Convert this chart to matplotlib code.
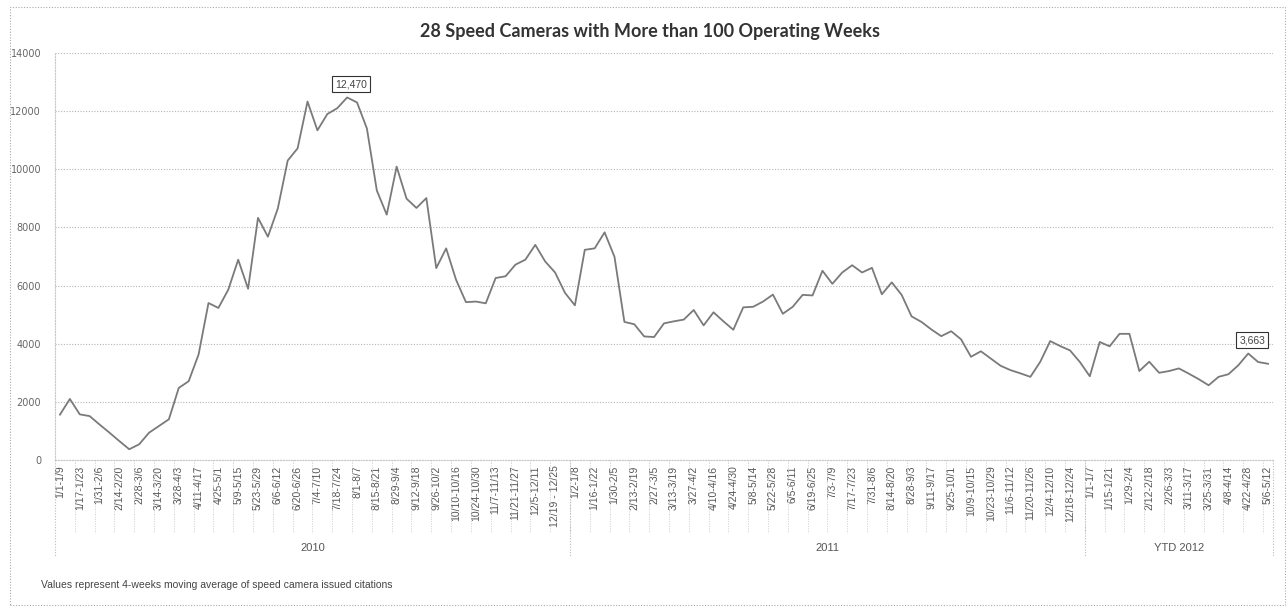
import numpy as np
import matplotlib
matplotlib.use("Agg")
import matplotlib.pyplot as plt
import matplotlib.transforms as mtransforms
from matplotlib.patches import Rectangle

# 4-week moving average of citations, one value per week
vals_2010 = [1560, 2100, 1570, 1510, 1220, 940, 650, 370, 540, 940,
             1170, 1400, 2480, 2710, 3630, 5400, 5230, 5860, 6890, 5890,
             8330, 7680, 8650, 10300, 10720, 12330, 11340, 11900, 12100, 12470,
             12300, 11400, 9270, 8440, 10090, 8990, 8670, 9010, 6600, 7280,
             6200, 5430, 5450, 5390, 6260, 6320, 6720, 6890, 7400, 6830,
             6450, 5750]
vals_2011 = [5320, 7230, 7280, 7830, 6990, 4750, 4670, 4250, 4230, 4700,
             4770, 4830, 5160, 4630, 5080, 4770, 4480, 5250, 5270, 5450,
             5690, 5030, 5270, 5680, 5660, 6510, 6060, 6450, 6700, 6450,
             6610, 5700, 6110, 5680, 4940, 4750, 4490, 4260, 4430, 4150,
             3550, 3740, 3490, 3240, 3090, 2980, 2860, 3380, 4090, 3920,
             3770, 3370]
vals_2012 = [2880, 4060, 3910, 4340, 4340, 3060, 3380, 3000, 3060, 3150,
             2970, 2780, 2570, 2860, 2950, 3260, 3663, 3370, 3310]

# labels shown on every other week
labels_2010 = ['1/1-1/9', '1/17-1/23', '1/31-2/6', '2/14-2/20', '2/28-3/6', '3/14-3/20',
               '3/28-4/3', '4/11-4/17', '4/25-5/1', '5/9-5/15', '5/23-5/29', '6/6-6/12',
               '6/20-6/26', '7/4-7/10', '7/18-7/24', '8/1-8/7', '8/15-8/21', '8/29-9/4',
               '9/12-9/18', '9/26-10/2', '10/10-10/16', '10/24-10/30', '11/7-11/13',
               '11/21-11/27', '12/5-12/11', '12/19 - 12/25']
labels_2011 = ['1/2-1/8', '1/16-1/22', '1/30-2/5', '2/13-2/19', '2/27-3/5', '3/13-3/19',
               '3/27-4/2', '4/10-4/16', '4/24-4/30', '5/8-5/14', '5/22-5/28', '6/5-6/11',
               '6/19-6/25', '7/3-7/9', '7/17-7/23', '7/31-8/6', '8/14-8/20', '8/28-9/3',
               '9/11-9/17', '9/25-10/1', '10/9-10/15', '10/23-10/29', '11/6-11/12',
               '11/20-11/26', '12/4-12/10', '12/18-12/24']
labels_2012 = ['1/1-1/7', '1/15-1/21', '1/29-2/4', '2/12-2/18', '2/26-3/3', '3/11-3/17',
               '3/25-3/31', '4/8-4/14', '4/22-4/28', '5/6-5/12']
years = ['2010', '2011', 'YTD 2012']
callouts = [29, 120]  # indexes of the labelled points

values = vals_2010 + vals_2011 + vals_2012
labels = labels_2010 + labels_2011 + labels_2012
n = len(values)
x = np.arange(n)
sizes = [len(vals_2010), len(vals_2011), len(vals_2012)]
edges = np.concatenate([[0], np.cumsum(sizes)]) - 0.5

fig = plt.figure(figsize=(12.88, 6.09), dpi=100)
ax = fig.add_axes([55/1288, 149/609, 1218/1288, 407/609])

ax.plot(x, values, color='#7a7a7a', lw=1.3)
ax.set_xlim(-0.5, n - 0.5)
ax.set_ylim(0, 14000)
ax.set_yticks(range(0, 14001, 2000))
ax.yaxis.grid(True, ls=(0, (1, 1.5)), color='#b5b5b5', lw=0.8)
ax.set_axisbelow(True)
ax.tick_params(axis='y', length=0, labelsize=7, labelcolor='#666666', pad=10)
ax.set_xticks(x[::2])
ax.set_xticklabels(labels, rotation=90, fontsize=7.5, color='#555555',
                   family='Liberation Sans')
ax.tick_params(axis='x', length=0, pad=4)
for s in ['top', 'right']:
    ax.spines[s].set_visible(False)
for s in ['left', 'bottom']:
    ax.spines[s].set_color('#c8c8c8')
    ax.spines[s].set_linestyle((0, (1, 1.5)))

# category separators under the axis
trans = mtransforms.blended_transform_factory(ax.transData, ax.transAxes)
for xs in np.arange(1.5, n - 1, 2):
    ax.plot([xs, xs], [0, -0.18], transform=trans, color='#cccccc', lw=0.7,
            ls=(0, (1, 1.5)), clip_on=False)
for xe in edges:
    ax.plot([xe, xe], [0, -0.235], transform=trans, color='#bbbbbb', lw=0.8,
            ls=(0, (1, 1.5)), clip_on=False)
for k, yr in enumerate(years):
    ax.text((edges[k] + edges[k + 1]) / 2, -0.217, yr, transform=trans,
            ha='center', va='center', fontsize=8, color='#555555',
            family='Liberation Sans')

for i in callouts:
    ax.annotate(f'{values[i]:,}', (x[i], values[i]), xytext=(3, 6),
                textcoords='offset points', ha='center', va='bottom',
                fontsize=7.5, color='#444444', family='Liberation Sans',
                bbox=dict(boxstyle='square,pad=0.3', fc='white', ec='#333333', lw=0.8))

fig.text(650/1288, 1 - 32/609, '28 Speed Cameras with More than 100 Operating Weeks',
         ha='center', va='center', fontsize=13, fontweight='bold', color='#333333',
         family='Lato')
fig.text(41/1288, 1 - 585/609,
         'Values represent 4-weeks moving average of speed camera issued citations',
         ha='left', va='center', fontsize=7.5, color='#444444', family='Liberation Sans')

fig.patches.append(Rectangle((10/1288, 4/609), 1275/1288, 598/609, transform=fig.transFigure,
                             fill=False, ec='#aaaaaa', lw=0.8, ls=(0, (1, 1.5))))

fig.savefig('out.png', dpi=100)
